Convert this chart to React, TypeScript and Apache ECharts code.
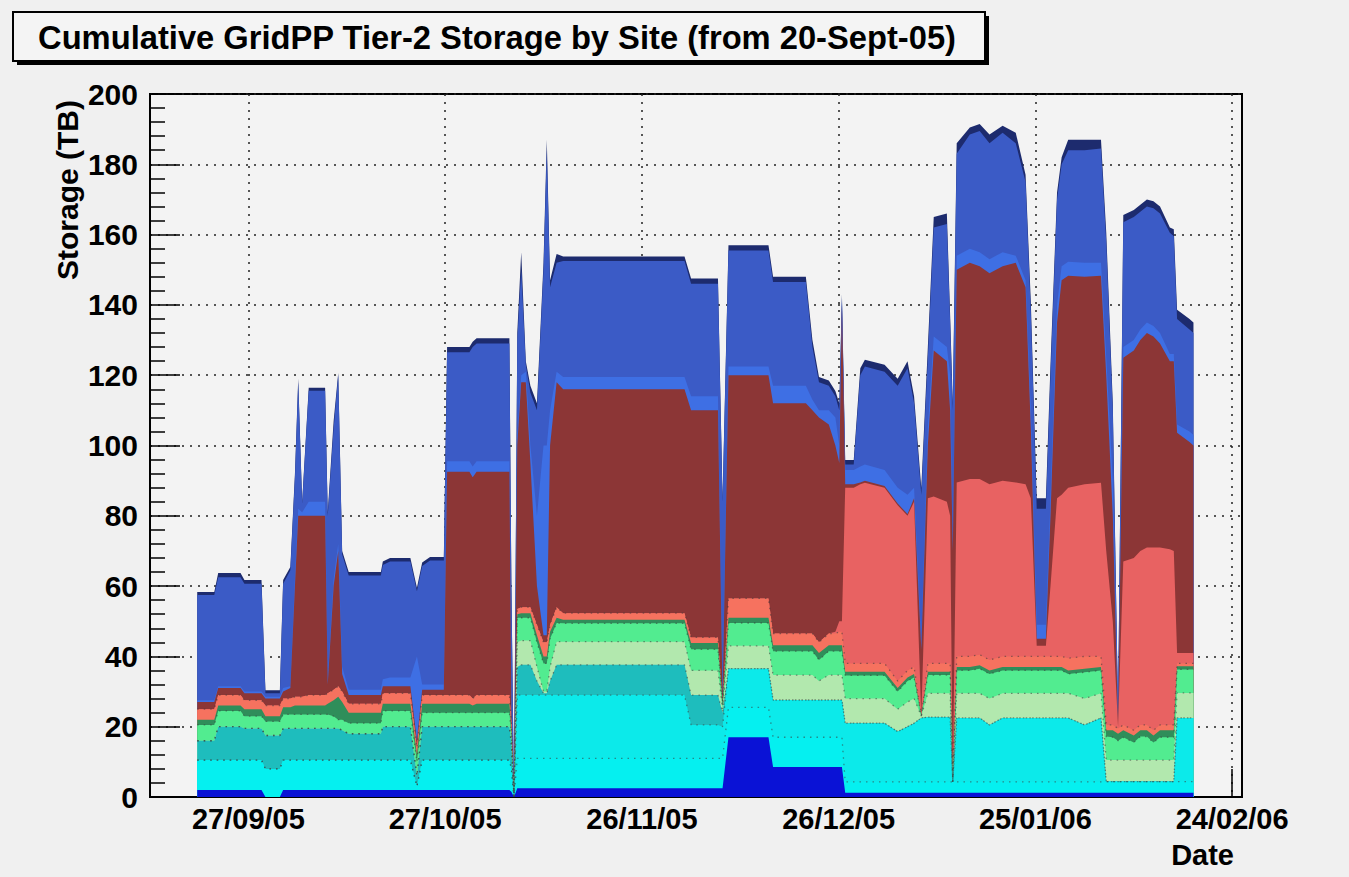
import React, { useEffect, useRef } from 'react';
import * as echarts from 'echarts';

// x = days after 27/09/05 ; values = cumulative storage (TB) at the top of each site's band
const days = [-7.8, -5.2, -4.6, -1.2, -0.6, 2.0, 2.6, 4.8, 5.3, 6.4,
  7.1, 7.6, 8.2, 9.2, 11.7, 12.1, 13.0, 13.7, 14.3, 15.3,
  20.2, 20.5, 21.6, 24.7, 25.7, 26.5, 27.7, 29.8, 30.3, 33.7,
  34.2, 34.8, 39.8, 40.1, 40.5, 41.0, 41.6, 42.3, 43.0, 44.0,
  45.0, 45.5, 46.0, 47.0, 48.0, 66.5, 67.5, 71.6, 72.3, 73.2,
  79.3, 80.0, 85.0, 86.0, 87.0, 88.5, 89.5, 90.1, 90.5, 91.0,
  92.3, 93.3, 94.0, 97.0, 99.0, 100.5, 101.5, 102.6, 103.6, 104.5,
  106.5, 107.0, 107.4, 108.0, 110.0, 111.5, 113.0, 115.0, 117.0, 118.5,
  119.3, 120.2, 121.6, 122.3, 123.3, 124.0, 125.0, 127.5, 130.0, 130.8,
  131.8, 132.6, 133.4, 135.0, 136.0, 137.0, 138.0, 139.0, 140.5, 141.1,
  141.6, 143.5, 144.1];

const blueTop = [2, 2, 2, 2, 2, 2, 0, 0, 2, 2,
  2, 2, 2, 2, 2, 2, 2, 2, 2, 2,
  2, 2, 2, 2, 2, 2, 2, 2, 2, 2,
  2, 2, 2, 1.5, 0, 2.5, 2.5, 2.5, 2.5, 2.5,
  2.5, 2.5, 2.5, 2.5, 2.5, 2.5, 2.5, 2.5, 2.5, 17,
  17, 8.5, 8.5, 8.5, 8.5, 8.5, 8.5, 8.5, 8.5, 1.2,
  1.2, 1.2, 1.2, 1.2, 1.2, 1.2, 1.2, 1.2, 1.2, 1.2,
  1.2, 1.2, 1.2, 1.2, 1.2, 1.2, 1.2, 1.2, 1.2, 1.2,
  1.2, 1.2, 1.2, 1.2, 1.2, 1.2, 1.2, 1.2, 1.2, 1.2,
  1.2, 1.2, 1.2, 1.2, 1.2, 1.2, 1.2, 1.2, 1.2, 1.2,
  1.2, 1.2, 1.2];

const cyanTop = [10.5, 10.5, 10.5, 10.5, 10.5, 10.5, 8, 8, 10.5, 10.5,
  10.5, 10.5, 10.5, 10.5, 10.5, 10.5, 10.5, 10.5, 10.5, 10.5,
  10.5, 10.5, 10.5, 10.5, 3, 10.5, 10.5, 10.5, 10.5, 10.5,
  10.5, 10.5, 10.5, 8, 0, 11, 11, 11, 11, 11,
  11, 11, 11, 11, 11, 11, 11, 11, 11, 25.5,
  25.5, 17, 17, 17, 17, 17, 17, 17, 17, 4.3,
  4.3, 4.3, 4.3, 4.3, 4.3, 4.3, 4.3, 4.3, 4.3, 4.3,
  4.3, 4.3, 4.3, 4.3, 4.3, 4.3, 4.3, 4.3, 4.3, 4.3,
  4.3, 4.3, 4.3, 4.3, 4.3, 4.3, 4.3, 4.3, 4.3, 4.4,
  4.4, 4.4, 4.4, 4.4, 4.4, 4.4, 4.4, 4.4, 4.4, 4.4,
  4.4, 4.4, 4.4];

const cyan2Top = [10.5, 10.5, 10.5, 10.5, 10.5, 10.5, 8, 8, 10.5, 10.5,
  10.5, 10.5, 10.5, 10.5, 10.5, 10.5, 10.5, 10.5, 10.5, 10.5,
  10.5, 10.5, 10.5, 10.5, 3, 10.5, 10.5, 10.5, 10.5, 10.5,
  10.5, 10.5, 10.5, 8, 0, 29, 29, 29, 29, 29,
  29, 29, 29, 29, 29, 29, 20.5, 20.5, 20, 36.5,
  36.5, 27.6, 27.6, 27.6, 27.6, 27.6, 27.6, 27.6, 27.6, 21,
  21, 21, 21, 21, 18.6, 20, 21, 22.5, 22.7, 22.7,
  22.7, 22.7, 4.3, 22.5, 22.5, 22.5, 20.5, 22.5, 22.5, 22.5,
  22.5, 22.5, 22.5, 22.5, 22.5, 22.5, 22.5, 20.5, 22.5, 4.4,
  4.4, 4.4, 4.4, 4.4, 4.4, 4.4, 4.4, 4.4, 4.4, 4.4,
  22.5, 22.5, 22.5];

const tealTop = [16, 16, 20, 20, 19.5, 19.5, 17.5, 17.5, 19.5, 19.5,
  19.5, 19.5, 19.5, 19.5, 19.5, 19.5, 19.5, 19.5, 19, 18,
  18, 20, 20, 20, 6, 20, 20, 20, 20, 20,
  20, 20, 20, 15, 0, 37, 37.6, 37.6, 37.6, 33,
  29.5, 29.5, 33, 37.6, 37.6, 37.6, 29, 29, 24, 36.5,
  36.5, 27.6, 27.6, 27.6, 27.6, 27.6, 27.6, 27.6, 27.6, 21,
  21, 21, 21, 21, 18.6, 20, 21, 22.5, 22.7, 22.7,
  22.7, 22.7, 4.3, 22.5, 22.5, 22.5, 20.5, 22.5, 22.5, 22.5,
  22.5, 22.5, 22.5, 22.5, 22.5, 22.5, 22.5, 20.5, 22.5, 4.4,
  4.4, 4.4, 4.4, 4.4, 4.4, 4.4, 4.4, 4.4, 4.4, 4.4,
  22.5, 22.5, 22.5];

const paleTop = [16, 16, 20, 20, 19.5, 19.5, 17.5, 17.5, 19.5, 19.5,
  19.5, 19.5, 19.5, 19.5, 19.5, 19.5, 19.5, 19.5, 19, 18,
  18, 20, 20, 20, 6, 20, 20, 20, 20, 20,
  20, 20, 20, 15, 0, 44, 44.5, 44.5, 44.5, 37,
  30, 30, 37, 44.2, 44.2, 44.2, 36, 36, 25, 43,
  43, 34.7, 34.7, 34.7, 33, 34.7, 34.7, 34.7, 34.7, 28,
  28, 28, 28, 28, 25, 27, 28, 23, 29.5, 29.5,
  29.5, 29.5, 4.3, 29.5, 29.5, 29.5, 28, 29.5, 29.5, 29.5,
  29.5, 29.5, 29.5, 29.5, 29.5, 29.5, 29.5, 28, 29.5, 10.5,
  10.5, 10.5, 10.5, 10.5, 10.5, 10.5, 10.5, 10.5, 10.5, 10.5,
  29.6, 29.6, 29.6];

const lightGreenTop = [20.5, 20.5, 24.5, 24.5, 23, 23, 21.5, 21.5, 23.5, 23.5,
  23.5, 23.5, 23.5, 23.5, 23.5, 23.5, 23, 22, 22, 21,
  21, 24.5, 24.5, 24.5, 10, 24, 24, 24, 24, 24,
  24, 24, 24, 18, 0, 51, 51, 51, 51, 44,
  38, 38, 45, 49.5, 49.4, 49.4, 42, 42, 26, 49.5,
  49.5, 41.5, 41.5, 41.5, 39, 41.5, 41.5, 41.5, 41.5, 34.6,
  34.6, 34.6, 34.6, 34.6, 30, 33, 34, 23, 34.7, 34.7,
  34.7, 34.7, 4.3, 36, 36, 36.5, 35, 36, 36, 36,
  36, 36, 36, 36, 36, 36, 35, 35.5, 36, 17.2,
  17, 16, 17, 15.5, 17.2, 17.2, 15.5, 17, 17, 17,
  36.3, 36.3, 36.3];

const darkGreenTop = [22, 22, 26, 26, 25, 25, 23, 23, 25.5, 25.5,
  26, 26, 26, 26, 26, 26.5, 27.5, 28.5, 27, 24,
  24, 26.5, 26.5, 26.5, 12, 26.5, 26.5, 26.5, 26.5, 26.5,
  26, 26.5, 26.5, 19, 0, 52, 52.3, 52.3, 52.3, 46,
  40, 40, 47, 51, 50.4, 50.4, 43.8, 43.8, 27, 51,
  51, 43.2, 43.2, 43.2, 41, 43.2, 43.2, 43.2, 43.2, 35.6,
  35.6, 35.6, 35.6, 35.6, 31, 34, 35, 23, 35.6, 35.6,
  35.6, 35.6, 4.3, 37, 37, 37.5, 36, 37, 37, 37,
  37, 37, 37, 37, 37, 37, 36, 36.5, 37, 19,
  19, 18, 19, 17.5, 19, 19, 17.5, 19, 19, 19,
  37.2, 37.2, 37.2];

const tomatoTop = [25, 25, 29, 29, 27.5, 27.5, 26, 26, 28, 28,
  28.5, 28.5, 28.5, 29, 29, 29.5, 30.5, 31.5, 30, 26.5,
  26.5, 29.5, 29.5, 29.5, 14, 29, 29, 29, 29, 29,
  28, 29, 29, 21, 0, 53.5, 54, 54, 54, 49,
  44, 44, 49, 54, 52.3, 52.3, 45.4, 45.4, 27, 56.5,
  56.5, 46.5, 46.5, 46.5, 44, 46.5, 46.5, 47, 47, 38,
  38, 38, 38, 38, 33, 36, 37, 23, 38, 38,
  38, 38, 4.3, 40, 40, 40.5, 39, 40, 40, 40,
  40, 40, 40, 40, 40, 40, 39.5, 40, 40, 20.5,
  20.5, 19.5, 20.5, 19, 20.5, 20.5, 19, 20.5, 20.5, 20.5,
  38, 38, 38];

const salmonTop = [25, 25, 29, 29, 27.5, 27.5, 26, 26, 28, 28,
  28.5, 28.5, 28.5, 29, 29, 29.5, 30.5, 31.5, 30, 26.5,
  26.5, 29.5, 29.5, 29.5, 14, 29, 29, 29, 29, 29,
  28, 29, 29, 21, 0, 53.5, 54, 54, 54, 49,
  44, 44, 49, 54, 52.3, 52.3, 45.4, 45.4, 27, 56.5,
  56.5, 46.5, 46.5, 46.5, 44, 46.5, 47, 50, 50, 88,
  88, 89, 89.4, 88, 83, 80, 84, 23, 85, 85.5,
  84, 80, 4.3, 89.5, 90.5, 90.5, 89, 90, 89.5, 89,
  85, 43, 43, 60, 85, 86, 88, 89, 89.4, 70,
  50, 20, 67, 68, 70, 71, 71, 71, 70.5, 70,
  41, 41, 41];

const darkRedTop = [27, 27, 31, 31, 29.5, 29.5, 28, 28, 30, 31,
  60, 80, 80, 80, 80, 32, 60, 70, 35, 29,
  29, 31.5, 31.5, 31.5, 16, 30.5, 30.5, 30.5, 92.5, 92.5,
  91, 92.5, 92.5, 25, 0, 100, 118, 118, 95, 60,
  46, 46, 100, 118, 116, 116, 110, 110, 28, 120,
  120, 112, 112, 110, 108, 106, 100, 95, 140, 89,
  89, 89.5, 90, 88.5, 83.5, 80.5, 85, 42, 100, 127,
  124, 110, 70, 150, 152, 151, 149, 151, 152, 145,
  105, 45, 45, 80, 135, 147, 148.3, 148, 148.3, 120,
  80, 21, 125, 127, 130, 132, 131, 129, 124, 124,
  103.6, 101, 100];

const midBlueTop = [27.5, 27.5, 31.5, 31.5, 30, 30, 28.5, 28.5, 31, 31.5,
  62, 82, 81, 84, 84, 33, 62, 72, 37, 30.5,
  30.5, 33.5, 34, 34, 40, 32, 32, 32, 95.5, 95.5,
  94, 95.5, 95.5, 30, 0, 102, 120, 121, 100, 80,
  100, 100, 110, 121, 119.5, 119.5, 114, 114, 29, 122.5,
  122.5, 117, 117, 113, 110, 110, 108, 100, 141, 93,
  93, 94, 94.6, 93, 88, 86, 88, 44, 105, 131,
  128, 120, 72, 154, 156, 155, 153, 155, 154, 147,
  110, 49, 49, 85, 140, 151, 152.3, 152, 152, 125,
  90, 24.8, 128, 130, 133, 135, 134, 132, 126, 126,
  106, 104, 103];

const royalBlueTop = [57.5, 57.5, 62.5, 62.5, 60.7, 60.7, 29.5, 29.5, 60.7, 64.5,
  91, 118, 83.5, 115.6, 115.6, 80, 105, 120, 69, 63,
  63, 66, 67, 67, 58.5, 65.7, 67.3, 67.3, 126.5, 126.5,
  128, 129, 129, 60, 0, 130, 150, 123, 115, 110,
  150, 184, 145, 152, 152.5, 152.5, 146, 146, 84, 155.5,
  155.5, 146.5, 146.5, 128, 118, 117, 114, 110, 142, 94.6,
  94.6, 120, 122.5, 121, 117, 122, 112, 86, 125, 162,
  163, 135, 110, 183, 188.5, 189.5, 186, 189, 186, 175,
  138, 82, 82, 120, 170, 180, 184, 184, 184.5, 158,
  110, 25, 163.5, 165, 166.5, 168, 167.5, 166, 160.5, 159.5,
  136, 133, 132];

const navyTop = [58.3, 58.3, 63.7, 63.7, 61.7, 61.7, 30.4, 30.4, 61.7, 65.4,
  92, 119, 84, 116.4, 116.4, 81, 107, 120.6, 70, 64,
  64, 67, 68, 68, 59.5, 66.7, 68.3, 68.3, 128, 128,
  129.5, 130.5, 130.5, 61, 0, 132, 155, 124, 117, 112,
  152, 187, 147, 154.5, 153.8, 153.8, 147.5, 147.5, 85, 157,
  157, 148, 148, 130, 119.5, 118.5, 115.5, 112, 143, 95.9,
  95.9, 122, 124.4, 123, 119, 124, 114, 88, 128, 165,
  166, 137, 112, 186, 190.5, 191.5, 188.5, 191, 189, 177,
  141, 85, 85, 123, 172, 182, 187, 187, 187, 160.7,
  112, 25.3, 165.6, 167, 168.5, 170, 169.5, 168, 162, 161.5,
  138.6, 136, 135];

const tickDays = [0, 30, 60, 90, 120, 150];
const tickLabels = ['27/09/05', '27/10/05', '26/11/05', '26/12/05', '25/01/06', '24/02/06'];

const FONT = '"Liberation Sans", Arial, Helvetica, sans-serif';

// drawn from the highest cumulative band down to the lowest; dotted = band outline drawn dotted
const layers = [
  { name: 'Site 13', color: '#1d2b6e', tops: navyTop, dotted: false },
  { name: 'Site 12', color: '#3b5bc6', tops: royalBlueTop, dotted: false },
  { name: 'Site 11', color: '#3e6fe4', tops: midBlueTop, dotted: false },
  { name: 'Site 10', color: '#8c3636', tops: darkRedTop, dotted: false },
  { name: 'Site 9', color: '#e86262', tops: salmonTop, dotted: false },
  { name: 'Site 8', color: '#f6725f', tops: tomatoTop, dotted: true },
  { name: 'Site 7', color: '#2f8e5a', tops: darkGreenTop, dotted: false },
  { name: 'Site 6', color: '#52ec90', tops: lightGreenTop, dotted: true },
  { name: 'Site 5', color: '#b2e8ae', tops: paleTop, dotted: true },
  { name: 'Site 4', color: '#1ebdbd', tops: tealTop, dotted: true },
  { name: 'Site 3', color: '#0ceaea', tops: cyan2Top, dotted: true },
  { name: 'Site 2', color: '#05f0f0', tops: cyanTop, dotted: true },
  { name: 'Site 1', color: '#0a12d6', tops: blueTop, dotted: false },
];

export default function App() {
  const ref = useRef<HTMLDivElement>(null);
  useEffect(() => {
    document.body.style.margin = '0';
    if (!ref.current) return;
    const chart = echarts.init(ref.current, undefined, { renderer: 'svg' });
    const option: any = {
      animation: false,
      backgroundColor: '#f0f0f0',
      grid: {
        left: 150, top: 94, width: 1092, height: 703,
        show: true, borderColor: '#000', borderWidth: 2, backgroundColor: '#f3f3f3',
      },
      xAxis: {
        type: 'value', min: -15, max: 151.5,
        axisLine: { show: true, onZero: false, lineStyle: { color: '#000', width: 2 } },
        axisTick: { show: true, inside: true, length: 28, customValues: tickDays, lineStyle: { color: '#000', width: 1.5 } },
        axisLabel: {
          customValues: tickDays,
          formatter: (v: number) => {
            const i = tickDays.indexOf(v);
            return i >= 0 ? tickLabels[i] : '';
          },
          color: '#000', fontSize: 29, fontWeight: 'bold', fontFamily: FONT, margin: 7,
        },
        splitLine: { show: true, lineStyle: { color: '#222', width: 1.5, type: [2, 6] } },
      },
      yAxis: {
        type: 'value', min: 0, max: 200, interval: 20,
        axisLine: { show: true, onZero: false, lineStyle: { color: '#000', width: 2 } },
        axisTick: { show: true, inside: true, length: 30, lineStyle: { color: '#000', width: 1.5 } },
        minorTick: { show: true, splitNumber: 5, length: 15, lineStyle: { color: '#000', width: 1.5 } },
        axisLabel: { color: '#000', fontSize: 30, fontWeight: 'bold', fontFamily: FONT, margin: 12 },
        splitLine: { show: true, lineStyle: { color: '#222', width: 1.5, type: [2, 6] } },
      },
      series: layers.map((l) => ({
        type: 'line',
        name: l.name,
        data: days.map((d, i) => [d, l.tops[i]]),
        symbol: 'none',
        showSymbol: false,
        silent: true,
        lineStyle: l.dotted
          ? { width: 1.3, color: '#3a3a3a', opacity: 0.55, type: [1.5, 5] }
          : { width: 0 },
        areaStyle: { color: l.color, opacity: 1 },
      })),
      graphic: [
        { type: 'rect', shape: { x: 17, y: 16, width: 972, height: 49 }, style: { fill: '#000' }, z: 10 },
        { type: 'rect', shape: { x: 13, y: 12, width: 972, height: 49 }, style: { fill: '#f4f4f4', stroke: '#000', lineWidth: 2 }, z: 11 },
        {
          type: 'text', x: 497, y: 37, z: 12,
          style: {
            text: 'Cumulative GridPP Tier-2 Storage by Site (from 20-Sept-05)',
            font: `bold 32.7px ${FONT}`, fill: '#000', textAlign: 'center', textVerticalAlign: 'middle',
          },
        },
        {
          type: 'text', x: 67, y: 100, rotation: Math.PI / 2, z: 12,
          style: {
            text: 'Storage (TB)', font: `bold 30px ${FONT}`, fill: '#000',
            textAlign: 'right', textVerticalAlign: 'middle',
          },
        },
        {
          type: 'text', x: 1234, y: 855, z: 12,
          style: {
            text: 'Date', font: `bold 29px ${FONT}`, fill: '#000',
            textAlign: 'right', textVerticalAlign: 'middle',
          },
        },
      ],
    };
    chart.setOption(option);
    return () => chart.dispose();
  }, []);
  return <div ref={ref} style={{ width: 1349, height: 877 }} />;
}
